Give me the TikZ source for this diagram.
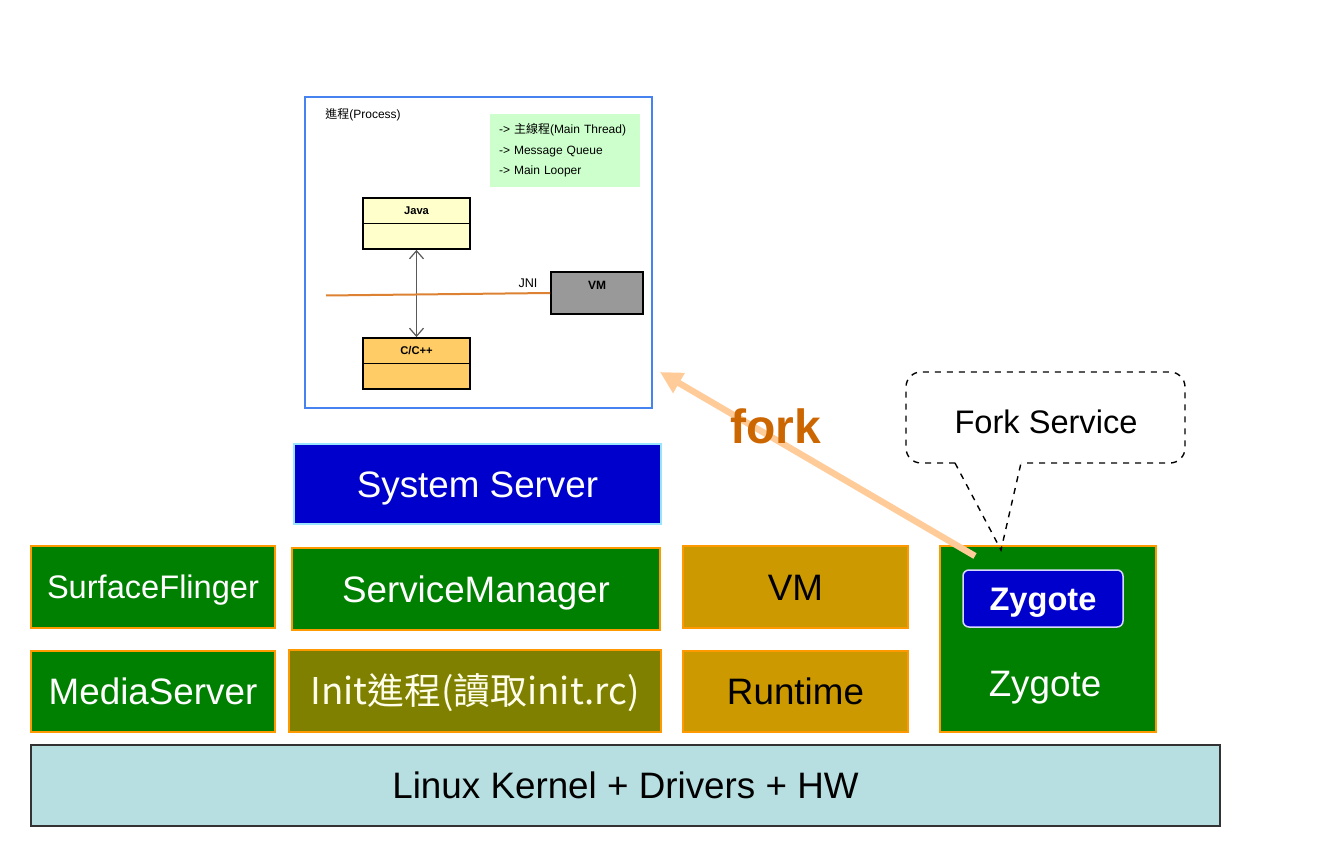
\documentclass[tikz,border=0pt]{standalone}
\usepackage{fontspec}
\setmainfont{Liberation Sans}
\newfontfamily\cjk{Noto Sans CJK TC}
\usepackage{xcolor}
\usetikzlibrary{arrows.meta,positioning}
\definecolor{layergreen}{RGB}{0,128,0}
\definecolor{layeredge}{RGB}{255,153,0}
\definecolor{layertan}{RGB}{204,153,0}
\definecolor{layerolive}{RGB}{128,128,0}
\definecolor{layerblue}{RGB}{0,0,204}
\definecolor{kernelfill}{RGB}{183,222,224}
\definecolor{procedge}{RGB}{70,130,240}
\definecolor{notefill}{RGB}{204,255,204}
\definecolor{javafill}{RGB}{255,255,204}
\definecolor{cppfill}{RGB}{255,204,102}
\definecolor{jniline}{RGB}{220,130,50}
\definecolor{forkline}{RGB}{255,204,153}
\definecolor{forktext}{RGB}{204,102,0}
\begin{document}
\begin{tikzpicture}[x=0.5pt,y=-0.5pt,
    bigtext/.style={text height=13.2pt, text depth=0pt, font=\fontsize{18.4}{22}\selectfont},
    midtext/.style={text height=11.7pt, text depth=0pt, font=\fontsize{16.3}{20}\selectfont},
    layer/.style={draw=layeredge, line width=0.75pt, inner sep=0pt, text=white, bigtext},
    umlbox/.style={draw=black, line width=0.9pt, minimum width=53.5pt, minimum height=25.5pt, inner sep=0pt},
    small/.style={font=\fontsize{6}{7}\selectfont, inner sep=0pt}]
\useasboundingbox (0,0) rectangle (1318,866);

\node[draw=procedge, line width=1pt, minimum width=173.5pt, minimum height=155.5pt] (proc) at (478.5,252.5) {};
\node[small, anchor=west] (proct) at (325,115) {{\cjk 進程}(Process)};
\node[fill=notefill, minimum width=75pt, minimum height=36.5pt, inner xsep=4.5pt, inner ysep=0pt,
  text width=66pt, align=left, font=\fontsize{6}{10.3}\selectfont] (note) at (565,150.5)
  {-> {\cjk 主線程}(Main Thread)\\-> Message Queue\\-> Main Looper};
\node[umlbox, fill=javafill] (java) at (416.5,223.5) {};
\node[small, font=\fontsize{5.6}{7}\bfseries] (javat) at (416.5,211) {Java};
\node[umlbox, fill=cppfill] (cpp) at (416.5,363.5) {};
\node[small, font=\fontsize{5.6}{7}\bfseries] (cppt) at (416.5,351) {C/C++};
\draw[line width=0.6pt] (java.west) -- (java.east);
\draw[line width=0.6pt] (cpp.west) -- (cpp.east);
\draw[black!65, line width=0.6pt, {Straight Barb[length=4pt,width=7pt]}-{Straight Barb[length=4pt,width=7pt]}] (java) -- (cpp);
\node[draw=black, line width=0.9pt, fill=black!40, minimum width=46pt, minimum height=21pt] (vm) at (597,293) {};
\node[small, font=\fontsize{6}{7}\bfseries] (vmt) at (597,285) {VM};
\coordinate (jnistart) at (326,295.5);
\draw[jniline, line width=1pt] (jnistart) -- (vm.west);
\node[small, font=\fontsize{6.3}{7}\selectfont] (jni) at (528,283) {JNI};

\node[layer, draw=blue!25!cyan!40, fill=layerblue, minimum width=183.5pt, minimum height=40pt] (sysserver) at (477.5,484) {System Server};
\node[layer, fill=layergreen, minimum width=122pt, minimum height=41pt, midtext] (surface) at (153,587) {SurfaceFlinger};
\node[layer, fill=layergreen, minimum width=184pt, minimum height=41pt] (svcmgr) at (476,589) {ServiceManager};
\node[layer, fill=layertan, text=black, minimum width=112.5pt, minimum height=41pt] (vmbox) at (795.5,587) {VM};
\node[layer, fill=layergreen, minimum width=122pt, minimum height=40.5pt] (media) at (153,691.5) {MediaServer};
\node[layer, fill=layerolive, text=white!92!yellow, minimum width=186pt, minimum height=41pt, font=\cjk\fontsize{18.4}{22}\selectfont] (init) at (475,691) {Init進程(讀取init.rc)};
\node[layer, fill=layertan, text=black, minimum width=112.5pt, minimum height=40.5pt] (runtime) at (795.5,691.5) {Runtime};
\node[layer, fill=layergreen, minimum width=108pt, minimum height=93pt] (zygbox) at (1048,639) {};
\node[layer, draw=blue!15!white, fill=layerblue, rounded corners=3pt, minimum width=80pt, minimum height=28.5pt,
  midtext, font=\fontsize{16.3}{20}\bfseries] (zyginner) at (1043,598.5) {Zygote};
\node[text=white, inner sep=0pt, bigtext] (zygt) at (1045,683) {Zygote};
\node[draw=black!80, line width=0.9pt, fill=kernelfill, minimum width=594.5pt, minimum height=40.5pt,
  inner sep=0pt, bigtext] (kernel) at (625.5,785.5) {Linux Kernel + Drivers + HW};

\node[midtext] (fs) at (1046,422) {Fork Service};
\coordinate (tip) at (1001,550);
\draw[dashed, line width=0.7pt, rounded corners=7.5pt] (955,463) -| (906,372) -| (1185,463) -- (1021,463);
\draw[dashed, line width=0.7pt] (955,463) -- (tip) -- (1021,463);

\coordinate (forkfrom) at (975,556);
\coordinate (forkto) at (660,372);
\draw[forkline, line width=3.2pt, -{Stealth[length=11pt,width=11pt,inset=0pt]}] (forkfrom) -- (forkto);
\node[text=forktext, font=\fontsize{24}{28}\bfseries] (fork) at (776,426) {fork};
\end{tikzpicture}
\end{document}
